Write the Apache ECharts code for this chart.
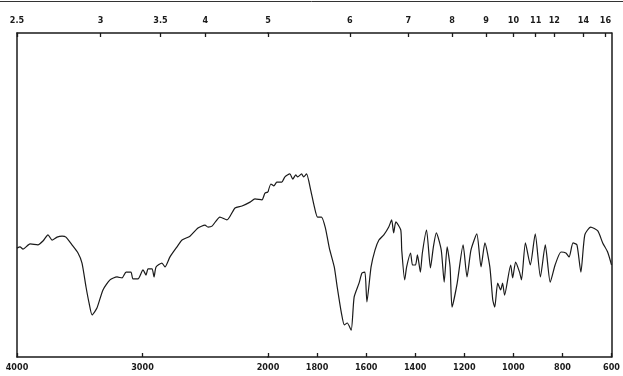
<!DOCTYPE html>
<html><head><meta charset="utf-8">
<script src="https://cdn.jsdelivr.net/npm/echarts@6/dist/echarts.min.js"></script>
<style>html,body{margin:0;padding:0;background:#fff}#c{width:623px;height:376px}</style>
</head><body><div id="c"></div>
<script>
// Wavenumber (cm^-1) and transmittance (%)
const wavenumbers = [4000,3976,3952,3896,3833,3793,3753,3721,3681,3641,3610,3562,3514,3482,3450,3426,3402,3363,3315,3259,3203,3163,3131,3092,3076,3036,2996,2972,2956,2924,2908,2892,2845,2821,2781,2725,2685,2622,2558,2502,2478,2446,2383,2327,2263,2207,2143,2104,2048,2024,2000,
1988,1976,1964,1944,1931,1911,1899,1887,1879,1863,1855,1843,1826,1810,1798,1782,1766,1750,1730,1718,1701,1689,1677,1661,1649,1629,1617,1605,1597,1580,1564,1548,1528,1508,1496,1488,1479,1459,1455,1443,1435,1419,1411,1399,1391,1379,1371,1354,1338,1326,1314,1294,1282,1270,1258,1250,1229,1205,1189,1173,1149,1132,1116,1096,1084,1076,1064,1052,1044,1036,1011,1003,991,975,967,951,931,911,890,870,850,830,806,786,773,757,741,725,709,685,656,636,616,600];
const transmittance = [33.6,34.0,33.3,34.9,34.6,35.8,37.7,36.1,37.0,37.3,37.0,34.6,32.1,29.0,21.6,16.7,13.0,15.1,20.7,23.8,24.7,24.4,26.2,26.2,24.1,24.1,26.9,25.3,27.2,27.2,24.7,27.8,29.0,27.8,30.9,34.0,36.1,37.3,39.8,40.7,40.1,40.4,43.2,42.3,46.0,46.6,47.8,48.8,48.5,50.6,50.9,
53.4,52.8,54.0,54.0,55.6,56.5,54.9,56.2,55.6,56.5,55.6,56.5,51.5,46.0,43.2,43.2,39.8,33.6,27.8,21.6,13.6,9.9,10.5,8.3,18.5,22.8,25.9,26.2,17.0,27.8,33.0,36.1,37.7,40.1,42.3,38.3,41.7,39.2,33.0,23.8,27.8,32.1,28.4,28.4,31.5,26.2,32.1,39.2,27.5,34.0,38.3,33.0,23.1,34.0,27.8,15.4,22.8,34.6,24.7,33.0,38.0,27.8,35.2,27.8,17.6,15.4,22.8,20.7,22.8,19.1,28.4,24.4,29.3,26.2,23.8,35.2,28.4,38.0,24.7,34.6,23.1,28.4,32.4,32.1,30.9,35.2,34.6,26.2,37.7,40.1,38.9,35.2,32.4,28.4];
const bottomTicksHigh = [4000,3000,2000];
const bottomTicksLow = [1800,1600,1400,1200,1000,800,600];
const wavelengthHigh = [2.5,3,3.5,4,5];
const wavelengthLow = [6,7,8,9,10,11,12,14,16];

const pairs = wavenumbers.map((w,i)=>[w,transmittance[i]]);
const highPart = pairs.filter(p=>p[0]>=2000);
const lowPart = pairs.filter(p=>p[0]<=2000);

const ink = '#1a1a1a';
const lblFont = {color: ink, fontFamily: "'DejaVu Sans Condensed', 'DejaVu Sans', sans-serif", fontWeight: 'bold', fontSize: 9};
function bottomAxis(gi, min, max, ticks){
  return {type:'value', gridIndex:gi, position:'bottom', inverse:true, min:min, max:max,
    axisLine:{show:true, lineStyle:{color:ink, width:1.5}},
    axisTick:{show:true, inside:true, length:4, customValues:ticks, lineStyle:{color:ink, width:1.3}},
    axisLabel:Object.assign({show:true, margin:6, customValues:ticks, formatter:v=>String(Math.round(v))}, lblFont),
    splitLine:{show:false}};
}
function topAxis(gi, min, max, wl){
  const vals = wl.map(v=>10000/v);
  return {type:'value', gridIndex:gi, position:'top', inverse:true, min:min, max:max,
    axisLine:{show:true, lineStyle:{color:ink, width:1.5}},
    axisTick:{show:true, inside:true, length:4, customValues:vals, lineStyle:{color:ink, width:1.3}},
    axisLabel:Object.assign({show:true, margin:8, customValues:vals,
      formatter:v=>{const u=10000/v; return String(Math.round(u*10)/10);}}, lblFont),
    splitLine:{show:false}};
}
const chart = echarts.init(document.getElementById('c'), null, {renderer:'canvas'});
chart.setOption({
  animation:false,
  backgroundColor:'#fff',
  grid:[{left:17, top:33, width:251, height:324},{left:268, top:33, width:347, height:324}],
  xAxis:[bottomAxis(0,2000,4000,bottomTicksHigh), bottomAxis(1,600,2000,bottomTicksLow),
         topAxis(0,2000,4000,wavelengthHigh), topAxis(1,600,2000,wavelengthLow)],
  yAxis:[{type:'value', gridIndex:0, min:0, max:100, position:'left',
          axisLine:{show:true, lineStyle:{color:ink, width:1.5}}, axisTick:{show:false}, axisLabel:{show:false}, splitLine:{show:false}},
         {type:'value', gridIndex:1, min:0, max:100, position:'right',
          axisLine:{show:true, lineStyle:{color:ink, width:1.5}}, axisTick:{show:false}, axisLabel:{show:false}, splitLine:{show:false}}],
  graphic:[{type:'line', shape:{x1:0,y1:1.5,x2:623,y2:1.5}, style:{stroke:'#333', lineWidth:1}}],
  series:[
    {type:'line', xAxisIndex:0, yAxisIndex:0, data:highPart, showSymbol:false, smooth:0.2,
     lineStyle:{color:ink, width:1.2}},
    {type:'line', xAxisIndex:1, yAxisIndex:1, data:lowPart, showSymbol:false, smooth:0.2,
     lineStyle:{color:ink, width:1.2}}
  ]
});
</script></body></html>
